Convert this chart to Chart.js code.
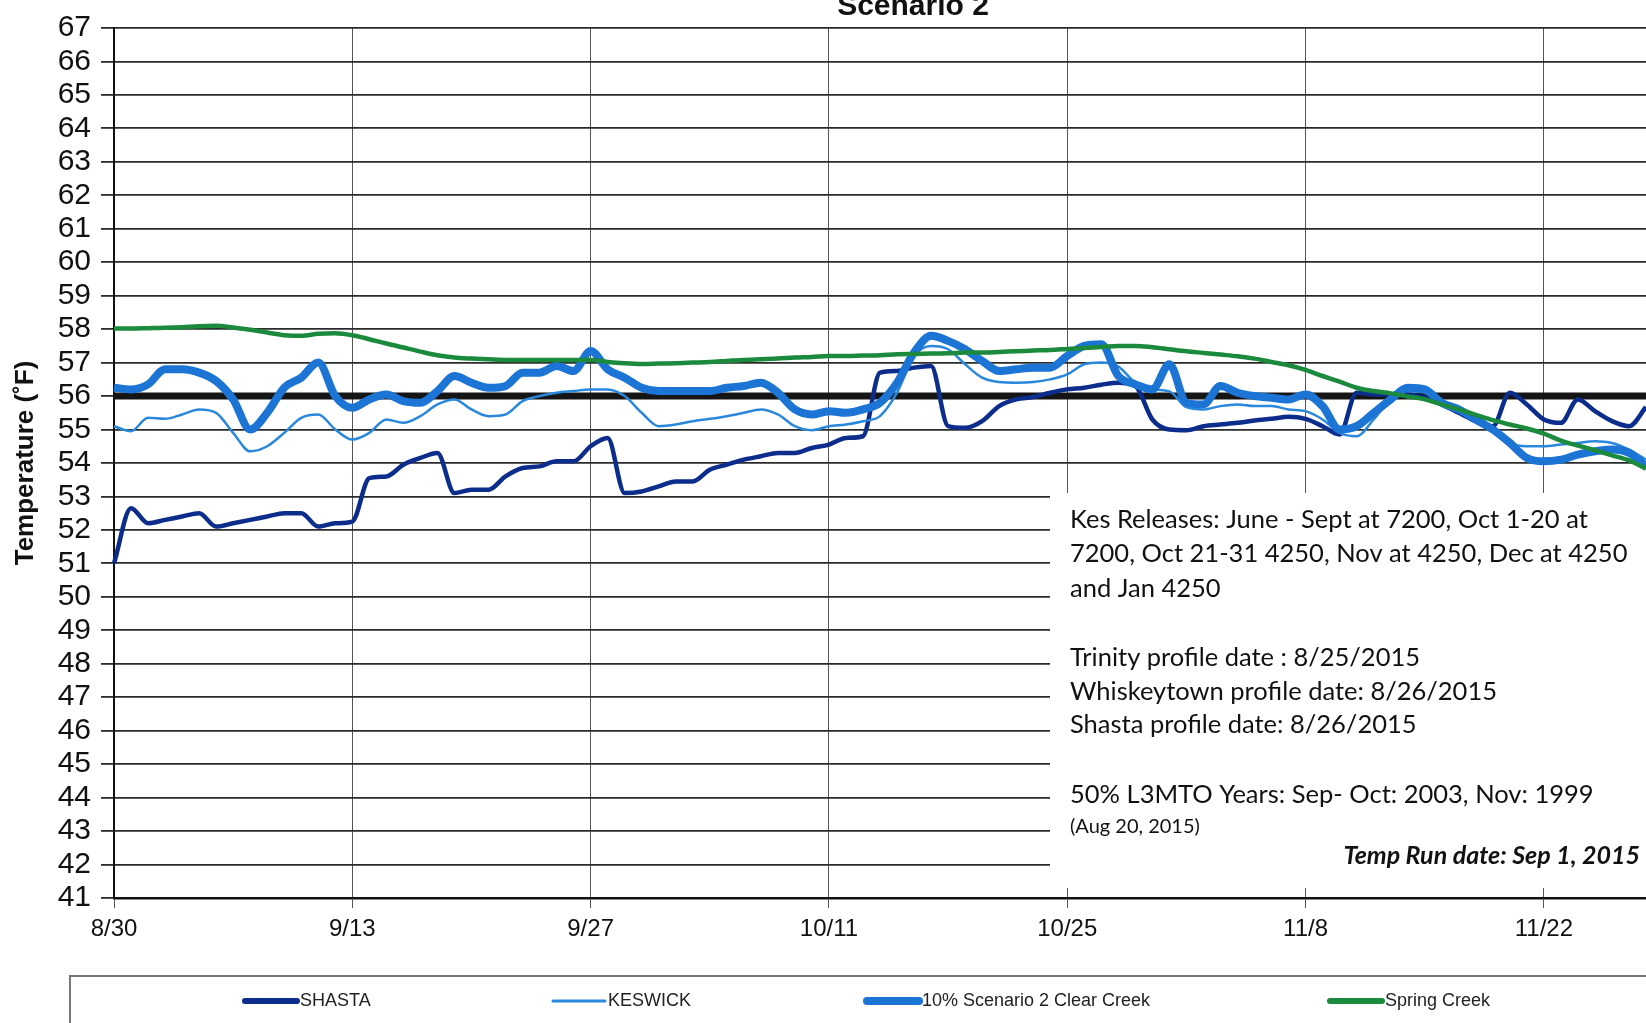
<!DOCTYPE html>
<html>
<head>
<meta charset="utf-8">
<script src="https://cdn.jsdelivr.net/npm/chart.js@4.4.1/dist/chart.umd.min.js"></script>
<style>
html, body { margin: 0; padding: 0; background: #fff; overflow: hidden; }
#rahmen { position: relative; width: 1646px; height: 1023px; }
</style>
</head>
<body>
<div id="rahmen"><canvas id="Diagramm"></canvas></div>
<script>
// Tage 8/30 .. 11/28
const datum = ['8/30','8/31',
  '9/1','9/2','9/3','9/4','9/5','9/6','9/7','9/8','9/9','9/10','9/11','9/12','9/13','9/14','9/15',
  '9/16','9/17','9/18','9/19','9/20','9/21','9/22','9/23','9/24','9/25','9/26','9/27','9/28','9/29','9/30',
  '10/1','10/2','10/3','10/4','10/5','10/6','10/7','10/8','10/9','10/10','10/11','10/12','10/13','10/14','10/15',
  '10/16','10/17','10/18','10/19','10/20','10/21','10/22','10/23','10/24','10/25','10/26','10/27','10/28','10/29','10/30','10/31',
  '11/1','11/2','11/3','11/4','11/5','11/6','11/7','11/8','11/9','11/10','11/11','11/12','11/13','11/14',
  '11/15','11/16','11/17','11/18','11/19','11/20','11/21','11/22','11/23','11/24','11/25','11/26','11/27','11/28'];

const achsenDaten = ['8/30','9/13','9/27','10/11','10/25','11/8','11/22'];

const shasta = [51.0, 52.65, 52.2, 52.3, 52.4, 52.5, 52.1, 52.2, 52.3, 52.4,
  52.5, 52.5, 52.1, 52.2, 52.25, 53.55, 53.6, 53.95, 54.15, 54.3,
  53.1, 53.2, 53.2, 53.6, 53.85, 53.9, 54.05, 54.05, 54.5, 54.75,
  53.1, 53.15, 53.3, 53.45, 53.45, 53.8, 53.95, 54.1, 54.2, 54.3,
  54.3, 54.45, 54.55, 54.75, 54.8, 56.7, 56.75, 56.85, 56.9, 55.1,
  55.05, 55.25, 55.7, 55.9, 55.97, 56.1, 56.2, 56.25, 56.34, 56.4,
  56.3, 55.3, 55.0, 54.98, 55.1, 55.15, 55.2, 55.27, 55.32, 55.38,
  55.32, 55.1, 54.85, 56.1, 56.05, 56.05, 56.05, 55.95, 55.75, 55.5,
  55.25, 55.1, 56.1, 55.75, 55.3, 55.2, 55.9, 55.55, 55.25, 55.1,
  55.67];

const keswick = [55.1, 54.95, 55.35, 55.32, 55.45, 55.6, 55.5, 54.9, 54.35, 54.5,
  54.9, 55.35, 55.45, 55.0, 54.7, 54.9, 55.3, 55.2, 55.4, 55.75,
  55.9, 55.6, 55.4, 55.45, 55.85, 56.0, 56.1, 56.15, 56.2, 56.2,
  56.0, 55.5, 55.1, 55.15, 55.25, 55.32, 55.4, 55.5, 55.6, 55.45,
  55.1, 54.98, 55.1, 55.15, 55.25, 55.4, 56.1, 57.2, 57.5, 57.4,
  56.95, 56.55, 56.42, 56.4, 56.42, 56.5, 56.65, 56.95, 57.0, 56.88,
  56.4, 56.2, 56.14, 55.67, 55.6, 55.7, 55.75, 55.7, 55.7, 55.6,
  55.55, 55.3, 54.9, 54.8, 55.3, 55.9, 56.15, 56.1, 55.8, 55.55,
  55.3, 55.0, 54.6, 54.5, 54.5, 54.55, 54.6, 54.65, 54.6, 54.4,
  54.1];

const clearCreek = [56.25, 56.2, 56.35, 56.8, 56.8, 56.7, 56.45, 55.9, 55.0, 55.5,
  56.25, 56.55, 57.0, 56.0, 55.65, 55.9, 56.05, 55.85, 55.8, 56.15,
  56.6, 56.4, 56.25, 56.3, 56.7, 56.7, 56.9, 56.75, 57.35, 56.8,
  56.55, 56.25, 56.15, 56.15, 56.15, 56.15, 56.25, 56.3, 56.4, 56.1,
  55.6, 55.45, 55.55, 55.5, 55.6, 55.8, 56.4, 57.3, 57.8, 57.65,
  57.4, 57.05, 56.75, 56.8, 56.85, 56.85, 57.2, 57.5, 57.55, 56.6,
  56.35, 56.2, 56.95, 55.8, 55.75, 56.3, 56.1, 56.0, 55.95, 55.9,
  56.05, 55.7, 55.0, 55.1, 55.5, 55.9, 56.25, 56.2, 55.8, 55.6,
  55.3, 55.0, 54.6, 54.15, 54.05, 54.1, 54.25, 54.35, 54.4, 54.3,
  53.9];

const springCreek = [58.02, 58.02, 58.03, 58.04, 58.06, 58.09, 58.1, 58.05, 57.98, 57.9,
  57.82, 57.8, 57.86, 57.88, 57.82, 57.7, 57.57, 57.45, 57.33, 57.22,
  57.15, 57.12, 57.1, 57.08, 57.08, 57.08, 57.08, 57.08, 57.08, 57.02,
  56.98, 56.96, 56.97, 56.98, 57.0, 57.02, 57.05, 57.08, 57.1, 57.12,
  57.15, 57.17, 57.2, 57.2, 57.21, 57.22, 57.25, 57.26, 57.27, 57.28,
  57.3, 57.3, 57.32, 57.34, 57.36, 57.38, 57.41, 57.44, 57.47, 57.5,
  57.5, 57.46, 57.4, 57.34, 57.29, 57.24, 57.19, 57.12, 57.02, 56.92,
  56.78, 56.6, 56.43, 56.25, 56.15, 56.08, 55.99, 55.9, 55.75, 55.6,
  55.44, 55.28, 55.15, 55.03, 54.88, 54.67, 54.52, 54.38, 54.23, 54.08,
  53.83];

const grenzwert = 56;

const notizZeilen = [
  'Kes Releases: June - Sept at 7200, Oct 1-20 at',
  '7200, Oct 21-31 4250, Nov at 4250, Dec at 4250',
  'and Jan 4250',
  'Trinity profile date : 8/25/2015',
  'Whiskeytown profile date: 8/26/2015',
  'Shasta profile date: 8/26/2015',
  '50% L3MTO Years: Sep- Oct: 2003, Nov: 1999'
];

Chart.defaults.font.family = "'Liberation Sans', Arial, sans-serif";
Chart.defaults.color = '#111';

// Titel oben (abgeschnitten wie im Original)
const titelPlugin = {
  id: 'titel',
  afterDraw(chart) {
    const ctx = chart.ctx;
    ctx.save();
    ctx.fillStyle = '#111';
    ctx.font = "bold 30px 'Liberation Sans', Arial";
    ctx.textAlign = 'center';
    ctx.textBaseline = 'alphabetic';
    ctx.fillText('Scenario 2', 913, 15);
    ctx.restore();
  }
};

// weisses Textfeld mit den Anmerkungen
const notizPlugin = {
  id: 'notiz',
  beforeDatasetsDraw(chart) {
    const ctx = chart.ctx;
    ctx.save();
    ctx.fillStyle = '#fff';
    ctx.fillRect(1050, 493, 700, 395);
    ctx.fillStyle = '#111';
    ctx.textBaseline = 'middle';
    ctx.textAlign = 'left';
    ctx.font = "25.5px Lato";
    const ys = [520, 554, 589, 658, 692, 725, 795];
    notizZeilen.forEach(function(z, i) { ctx.fillText(z, 1070, ys[i]); });
    ctx.font = "20px Lato";
    ctx.fillText('(Aug 20, 2015)', 1070, 827);
    ctx.font = "italic bold 25px Lato";
    ctx.textAlign = 'right';
    ctx.fillText('Temp Run date: Sep 1, 2015', 1640, 856);
    ctx.restore();
  }
};

// Legende unten im Kasten
const legendePlugin = {
  id: 'legende',
  afterDraw(chart) {
    const ctx = chart.ctx;
    const startX = [245, 553, 867, 1330];
    ctx.save();
    ctx.strokeStyle = '#777';
    ctx.lineWidth = 2;
    ctx.strokeRect(70, 976, 1700, 120);
    ctx.font = "18px 'Liberation Sans', Arial";
    ctx.textBaseline = 'middle';
    ctx.lineCap = 'round';
    for (let i = 0; i < 4; i++) {
      const ds = chart.data.datasets[i];
      ctx.strokeStyle = ds.borderColor;
      ctx.lineWidth = ds.legendBreite;
      ctx.beginPath();
      ctx.moveTo(startX[i], 1001);
      ctx.lineTo(startX[i] + 52, 1001);
      ctx.stroke();
      ctx.fillStyle = '#222';
      ctx.fillText(ds.label, startX[i] + 55, 1001);
    }
    ctx.restore();
  }
};

const CHART = document.getElementById('Diagramm');

let tempDiagramm = new Chart(CHART, {
  type: 'line',
  data: {
    labels: datum,
    datasets: [{
      label: 'SHASTA',
      data: shasta,
      borderColor: '#0c2d8c',
      borderWidth: 4.5,
      legendBreite: 6,
      order: 4
    }, {
      label: 'KESWICK',
      data: keswick,
      borderColor: '#2a88dc',
      borderWidth: 2.5,
      legendBreite: 3,
      order: 3
    }, {
      label: '10% Scenario 2 Clear Creek',
      data: clearCreek,
      borderColor: '#1c74d4',
      borderWidth: 8,
      legendBreite: 8,
      order: 2
    }, {
      label: 'Spring Creek',
      data: springCreek,
      borderColor: '#1b8a3c',
      borderWidth: 4.5,
      legendBreite: 6,
      order: 1
    }, {
      label: 'Criterion',
      data: [{x: datum[0], y: grenzwert}, {x: datum[datum.length - 1], y: grenzwert}],
      borderColor: '#151515',
      borderWidth: 7,
      tension: 0,
      order: 5
    }]
  },
  options: {
    responsive: true,
    maintainAspectRatio: false,
    animation: false,
    layout: { padding: { top: 23, left: 0, right: 0, bottom: 0 } },
    elements: {
      point: { radius: 0 },
      line: { cubicInterpolationMode: 'monotone', fill: false }
    },
    plugins: {
      legend: { display: false },
      tooltip: { enabled: false }
    },
    scales: {
      x: {
        offset: false,
        grid: { color: '#555', lineWidth: 1, tickLength: 10 },
        border: { color: '#111', width: 2.5 },
        ticks: {
          autoSkip: false,
          maxRotation: 0,
          padding: 7,
          color: '#111',
          font: { size: 24 },
          callback: function(v, i) {
            return achsenDaten.includes(datum[i]) ? datum[i] : null;
          }
        },
        afterFit: function(s) { s.height = 125; }
      },
      y: {
        min: 41,
        max: 67,
        grid: { color: '#2b2b2b', lineWidth: 1.8, tickLength: 13 },
        border: { color: '#111', width: 2 },
        ticks: { stepSize: 1, autoSkip: false, padding: 10, color: '#111', font: { size: 30 } },
        title: {
          display: true,
          text: 'Temperature (˚F)',
          color: '#111',
          font: { size: 26, weight: 'bold' },
          padding: { top: 10, bottom: 0 }
        },
        afterFit: function(s) { s.width = 114; }
      }
    }
  },
  plugins: [titelPlugin, notizPlugin, legendePlugin]
});
</script>
</body>
</html>
